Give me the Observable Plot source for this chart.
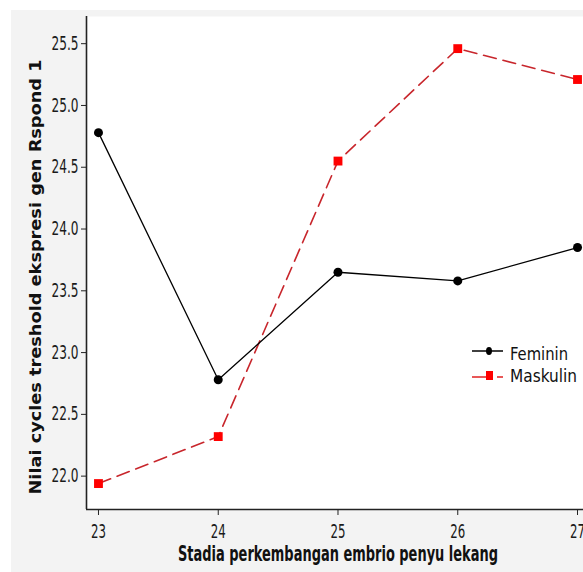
<!DOCTYPE html>
<html>
<head>
<meta charset="utf-8">
<script src="https://cdn.jsdelivr.net/npm/d3@7"></script>
<script src="https://cdn.jsdelivr.net/npm/@observablehq/plot@0.6"></script>
<style>
  html, body { margin: 0; padding: 0; background: #ffffff; overflow: hidden; width: 583px; height: 572px; }
  #wrap { position: absolute; left: 11px; top: 10px; width: 572px; height: 562px; background: #f3f3f3; }
</style>
</head>
<body>
<div id="wrap"></div>
<script>
const stages = [23, 24, 25, 26, 27];
const feminin = [24.78, 22.78, 23.65, 23.58, 23.85];
const maskulin = [21.94, 22.32, 24.55, 25.46, 25.21];
const yTicks = [22.0, 22.5, 23.0, 23.5, 24.0, 24.5, 25.0, 25.5];
const seriesNames = ["Feminin", "Maskulin"];
const xLabel = "Stadia perkembangan embrio penyu lekang";
const yLabel = "Nilai cycles treshold ekspresi gen Rspond 1";

const femData = stages.map((s, i) => ({stage: s, value: feminin[i]}));
const masData = stages.map((s, i) => ({stage: s, value: maskulin[i]}));

const narrow = "'DejaVu Sans Condensed', 'DejaVu Sans', sans-serif";
const xDom = [22.9, 27.05];
const yDom = [21.73, 25.72];

const chart = Plot.plot({
  width: 572,
  height: 562,
  marginLeft: 75,
  marginTop: 6,
  marginBottom: 63,
  marginRight: 0,
  style: {background: "transparent", fontFamily: narrow, fontSize: "19px", color: "#1a1a1a", overflow: "visible"},
  x: {domain: xDom},
  y: {domain: yDom},
  marks: [
    Plot.frame({fill: "white", stroke: null, inset: 0}),
    Plot.axisY({ticks: yTicks, tickFormat: d3.format(".1f"), tickSize: 5, tickPadding: 3, label: null, fontSize: 19, stroke: "#222"}),
    Plot.axisX({ticks: stages, tickFormat: d => String(d), tickSize: 6, tickPadding: 9, label: null, fontSize: 19, stroke: "#222"}),
    Plot.ruleX([xDom[0]], {stroke: "#222", strokeWidth: 1.6}),
    Plot.ruleY([yDom[0]], {stroke: "#222", strokeWidth: 1.6}),
    Plot.line(masData, {x: "stage", y: "value", stroke: "#c8262c", strokeWidth: 1.6, strokeDasharray: "13,7"}),
    Plot.line(femData, {x: "stage", y: "value", stroke: "#000", strokeWidth: 1.3}),
    Plot.dot(masData, {x: "stage", y: "value", symbol: "square", r: 5, fill: "#ff0000", stroke: "none"}),
    Plot.dot(femData, {x: "stage", y: "value", r: 4.5, fill: "#000", stroke: "none"}),
    Plot.text([yLabel], {frameAnchor: "left", textAnchor: "middle", dx: -51, dy: 14, rotate: -90, fontFamily: "'DejaVu Sans', sans-serif", fontWeight: "bold", fontSize: 16, fill: "#111"}),
    Plot.text([xLabel], {frameAnchor: "bottom", textAnchor: "middle", dx: 3, dy: 51, fontFamily: narrow, fontWeight: "bold", fontSize: 21, fill: "#111"})
  ]
});
document.getElementById("wrap").appendChild(chart);

// compress text horizontally to match the narrow typeface of the original
const lengthFor = t => t === xLabel ? 320 : t === yLabel ? 435 : (/^\d\d\.\d$/.test(t) ? 27 : (/^\d\d$/.test(t) ? 15 : null));
d3.select(chart).selectAll("text").each(function () {
  const L = lengthFor(this.textContent.trim());
  if (L) d3.select(this).attr("textLength", L).attr("lengthAdjust", "spacingAndGlyphs");
});

// legend
const leg = d3.select("body").append("svg").attr("width", 583).attr("height", 572)
  .style("position", "absolute").style("left", "0px").style("top", "0px");
const g = leg.append("g").attr("transform", "translate(472,351)");
g.append("line").attr("x1", 0).attr("x2", 31).attr("y1", 0).attr("y2", 0).attr("stroke", "#000").attr("stroke-width", 1.5);
g.append("ellipse").attr("cx", 17).attr("cy", 0).attr("rx", 3).attr("ry", 4).attr("fill", "#000");
g.append("text").attr("x", 38).attr("y", 9).text(seriesNames[0])
  .attr("textLength", 58).attr("lengthAdjust", "spacingAndGlyphs")
  .style("font-family", narrow).style("font-size", "18px").attr("fill", "#111");
const g2 = leg.append("g").attr("transform", "translate(472,377)");
g2.append("line").attr("x1", 0).attr("x2", 14).attr("y1", 0).attr("y2", 0).attr("stroke", "#e02020").attr("stroke-width", 1.5);
g2.append("line").attr("x1", 25).attr("x2", 31).attr("y1", 0).attr("y2", 0).attr("stroke", "#e02020").attr("stroke-width", 1.5);
g2.append("rect").attr("x", 14).attr("y", -6).attr("width", 7).attr("height", 9).attr("fill", "#ff0000");
g2.append("text").attr("x", 38).attr("y", 5).text(seriesNames[1])
  .attr("textLength", 67).attr("lengthAdjust", "spacingAndGlyphs")
  .style("font-family", narrow).style("font-size", "18px").attr("fill", "#111");
</script>
</body>
</html>
